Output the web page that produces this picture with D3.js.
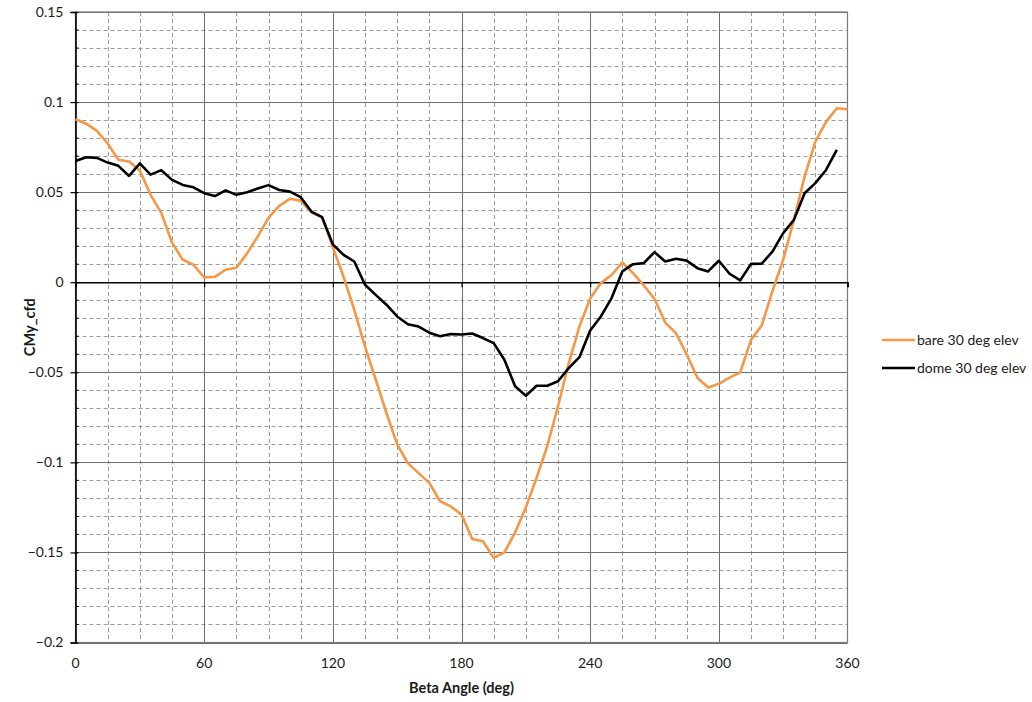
<!DOCTYPE html>
<html>
<head>
<meta charset="utf-8">
<script src="https://cdn.jsdelivr.net/npm/d3@7"></script>
<style>
  html, body { margin: 0; padding: 0; background: #fff; }
  svg { display: block; }
  text { font-family: Lato, "Open Sans", sans-serif; fill: #1a1a1a; }
</style>
</head>
<body>
<svg id="chart" width="1032" height="702"></svg>
<script>
// Beta angle samples (deg)
const betaBare = [0,5,10,15,20,25,30,35,40,45,50,55,60,65,70,75,80,85,90,95,100,105,110,115,120,125,130,135,140,145,150,155,160,165,170,175,180,185,190,195,200,205,210,215,220,225,230,235,240,245,250,255,260,265,270,275,280,285,290,295,300,305,310,315,320,325,330,335,340,345,350,355,360];
const bareCMy = [0.0905,0.088,0.084,0.077,0.068,0.067,0.062,0.0485,0.0385,0.022,0.0125,0.0097,0.0026,0.003,0.0069,0.008,0.016,0.0254,0.0357,0.0424,0.0463,0.0453,0.0387,0.036,0.0195,0.003,-0.0153,-0.0357,-0.054,-0.0726,-0.090,-0.1004,-0.106,-0.1114,-0.1216,-0.1244,-0.129,-0.1425,-0.1438,-0.153,-0.150,-0.139,-0.125,-0.1087,-0.091,-0.069,-0.045,-0.0245,-0.009,-0.0005,0.004,0.011,0.005,-0.0018,-0.0092,-0.0224,-0.0283,-0.040,-0.053,-0.0584,-0.0564,-0.053,-0.050,-0.032,-0.024,-0.005,0.0124,0.0346,0.0586,0.078,0.089,0.0966,0.096];

const betaDome = [0,5,10,15,20,25,30,35,40,45,50,55,60,65,70,75,80,85,90,95,100,105,110,115,120,125,130,135,140,145,150,155,160,165,170,175,180,185,190,195,200,205,210,215,220,225,230,235,240,245,250,255,260,265,270,275,280,285,290,295,300,305,310,315,320,325,330,335,340,345,350,355];
const domeCMy = [0.0673,0.0694,0.069,0.0664,0.0646,0.059,0.066,0.0597,0.0622,0.0568,0.054,0.0527,0.0494,0.0478,0.051,0.0485,0.050,0.052,0.0539,0.0512,0.0503,0.0472,0.0392,0.0361,0.021,0.0152,0.0115,-0.0014,-0.007,-0.0125,-0.019,-0.0233,-0.0246,-0.028,-0.030,-0.0288,-0.029,-0.0285,-0.031,-0.0338,-0.043,-0.0578,-0.063,-0.0575,-0.0575,-0.055,-0.0477,-0.0416,-0.0268,-0.019,-0.0088,0.006,0.010,0.0106,0.0167,0.0115,0.013,0.012,0.0078,0.006,0.0119,0.0047,0.001,0.0102,0.0103,0.017,0.0272,0.0346,0.0494,0.055,0.0623,0.0734];

const seriesNames = ["bare 30 deg elev", "dome 30 deg elev"];
const seriesColors = ["#f79646", "#000000"];

const xTickValues = [0, 60, 120, 180, 240, 300, 360];
const yTickValues = [-0.2, -0.15, -0.1, -0.05, 0, 0.05, 0.1, 0.15];

const svg = d3.select("#chart");
const plot = { left: 75.5, right: 847.5, top: 12, bottom: 642.5 };

const x = d3.scaleLinear().domain([0, 360]).range([plot.left, plot.right]);
const y = d3.scaleLinear().domain([-0.2, 0.15]).range([plot.bottom, plot.top]);

const g = svg.append("g");

// minor grid (dashed)
const xMinor = d3.range(0, 361, 15).filter(v => v % 60 !== 0);
const yMinor = d3.range(-20, 16, 1).map(v => v / 100).filter(v => Math.round(v * 100) % 5 !== 0);

g.selectAll(".vminor").data(xMinor).join("line")
  .attr("x1", d => Math.round(x(d)) + 0.5).attr("x2", d => Math.round(x(d)) + 0.5)
  .attr("y1", plot.top).attr("y2", plot.bottom)
  .attr("stroke", "#9a9a9a").attr("stroke-width", 1).attr("stroke-dasharray", "4,3");

g.selectAll(".hminor").data(yMinor).join("line")
  .attr("x1", plot.left).attr("x2", plot.right)
  .attr("y1", d => Math.round(y(d)) + 0.5).attr("y2", d => Math.round(y(d)) + 0.5)
  .attr("stroke", "#9a9a9a").attr("stroke-width", 1).attr("stroke-dasharray", "4,3");

// major grid (solid)
g.selectAll(".vmajor").data(xTickValues.filter(v => v > 0 && v < 360)).join("line")
  .attr("x1", d => Math.round(x(d)) + 0.5).attr("x2", d => Math.round(x(d)) + 0.5)
  .attr("y1", plot.top).attr("y2", plot.bottom)
  .attr("stroke", "#6e6e6e").attr("stroke-width", 1);

g.selectAll(".hmajor").data(yTickValues.filter(v => v !== 0)).join("line")
  .attr("x1", plot.left).attr("x2", plot.right)
  .attr("y1", d => Math.round(y(d)) + 0.5).attr("y2", d => Math.round(y(d)) + 0.5)
  .attr("stroke", "#6e6e6e").attr("stroke-width", 1);

// plot border
g.append("rect")
  .attr("x", plot.left).attr("y", plot.top)
  .attr("width", plot.right - plot.left).attr("height", plot.bottom - plot.top)
  .attr("fill", "none").attr("stroke", "#7a7a7a").attr("stroke-width", 1.2);

// x axis on the zero line
const xAxis = d3.axisBottom(x).tickValues(xTickValues).tickSize(5).tickFormat("");
const xAxisG = g.append("g").attr("transform", `translate(0,${y(0)})`).call(xAxis);
xAxisG.select(".domain").attr("stroke", "#000").attr("stroke-width", 1.6);
xAxisG.selectAll(".tick line").attr("stroke", "#000").attr("stroke-width", 1.2);

// x tick labels along the bottom
g.selectAll(".xlab").data(xTickValues).join("text")
  .attr("x", d => x(d)).attr("y", plot.bottom + 25)
  .attr("text-anchor", "middle").attr("font-size", 14)
  .text(d => d);

// y axis
const yAxis = d3.axisLeft(y).tickValues(yTickValues).tickSize(5).tickPadding(7)
  .tickFormat(d => d === 0 ? "0" : d3.format("")(+d.toFixed(2)));
const yAxisG = g.append("g").attr("transform", `translate(${plot.left},0)`).call(yAxis);
yAxisG.select(".domain").attr("stroke", "#000").attr("stroke-width", 1.6);
yAxisG.selectAll(".tick line").attr("stroke", "#000").attr("stroke-width", 1.2).attr("x2", -5).attr("x1", 3);
yAxisG.selectAll(".tick text").attr("font-size", 14).attr("font-family", "Lato, sans-serif").attr("fill", "#1a1a1a");

// y minor ticks inside the axis
g.selectAll(".yminortick").data(yMinor).join("line")
  .attr("x1", plot.left).attr("x2", plot.left + 3)
  .attr("y1", d => y(d)).attr("y2", d => y(d))
  .attr("stroke", "#000").attr("stroke-width", 1);

// series lines
const line = d3.line().x(d => x(d[0])).y(d => y(d[1]));
const bareData = d3.zip(betaBare, bareCMy);
const domeData = d3.zip(betaDome, domeCMy);

g.append("path").datum(bareData).attr("d", line)
  .attr("fill", "none").attr("stroke", seriesColors[0]).attr("stroke-width", 2.6)
  .attr("stroke-linejoin", "round");
g.append("path").datum(domeData).attr("d", line)
  .attr("fill", "none").attr("stroke", seriesColors[1]).attr("stroke-width", 2.6)
  .attr("stroke-linejoin", "round");

// axis titles
svg.append("text")
  .attr("transform", `translate(35,${(plot.top + plot.bottom) / 2}) rotate(-90)`)
  .attr("text-anchor", "middle").attr("font-size", 14.5).attr("font-weight", "bold")
  .text("CMy_cfd");
svg.append("text")
  .attr("x", 461.5).attr("y", 693)
  .attr("text-anchor", "middle").attr("font-size", 14.5).attr("font-weight", "bold")
  .text("Beta Angle (deg)");

// legend
const legend = svg.append("g").attr("transform", "translate(882,340)");
seriesNames.forEach((name, i) => {
  const row = legend.append("g").attr("transform", `translate(0,${i * 28})`);
  row.append("line").attr("x1", 0).attr("x2", 33).attr("y1", 0).attr("y2", 0)
    .attr("stroke", seriesColors[i]).attr("stroke-width", 2.6);
  row.append("text").attr("x", 35).attr("y", 5).attr("font-size", 14).text(name);
});
</script>
</body>
</html>
